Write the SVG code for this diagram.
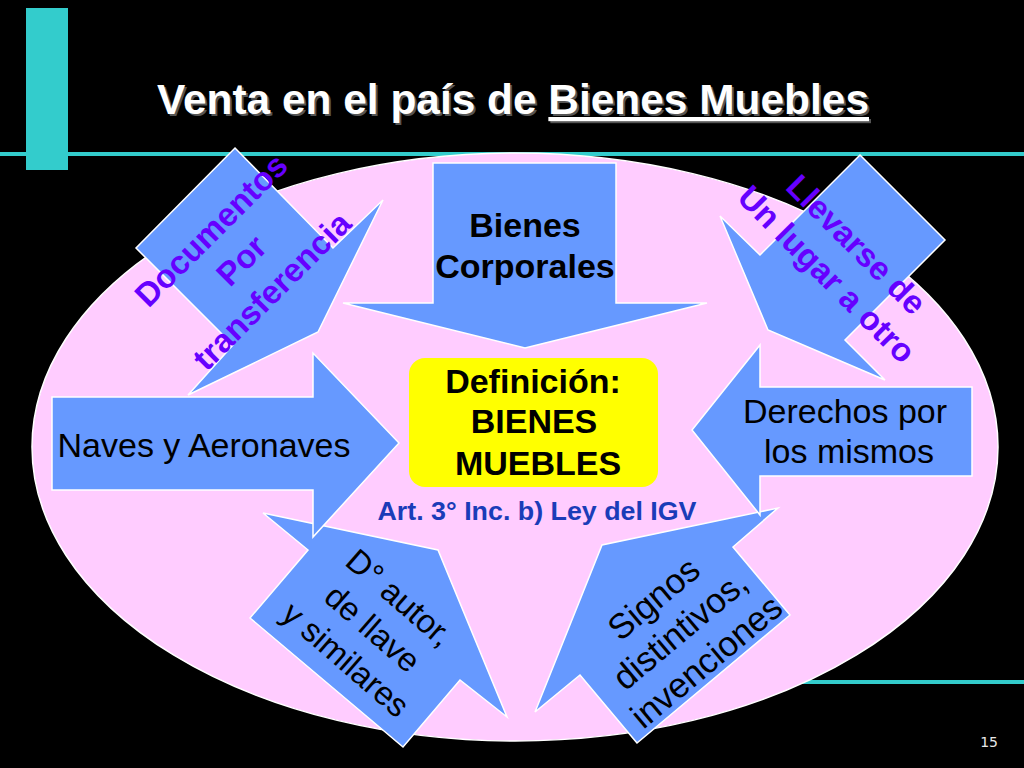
<svg xmlns="http://www.w3.org/2000/svg" width="1024" height="768" viewBox="0 0 1024 768">
<defs>
<style>
.arrow{fill:#6699FF;stroke:#FFFFFF;stroke-width:1.5;stroke-linejoin:miter}
.lbl{font-family:"Liberation Sans",Arial,sans-serif;fill:#000000;text-anchor:middle}
.b{font-weight:bold}
.purple{font-family:"Liberation Sans",Arial,sans-serif;font-weight:bold;fill:#6600FF;text-anchor:middle;font-size:33px}
.cyan{fill:#33CCCC}
</style>
</defs>
<rect x="0" y="0" width="1024" height="768" fill="#000000"/>
<g id="decor">
<rect class="cyan" x="0" y="152" width="1024" height="4"/>
<rect class="cyan" x="700" y="680" width="324" height="4"/>
<rect class="cyan" x="26" y="8" width="42" height="162"/>
</g>
<g id="title">
<text x="159" y="116" font-family="Liberation Sans, Arial, sans-serif" font-weight="bold" font-size="42" fill="#555555" textLength="712" lengthAdjust="spacingAndGlyphs">Venta en el país de <tspan text-decoration="underline">Bienes Muebles</tspan></text>
<text x="157" y="114" font-family="Liberation Sans, Arial, sans-serif" font-weight="bold" font-size="42" fill="#FFFFFF" textLength="712" lengthAdjust="spacingAndGlyphs">Venta en el país de <tspan text-decoration="underline">Bienes Muebles</tspan></text>
</g>
<g id="ellipse">
<ellipse cx="515" cy="447" rx="483" ry="294" fill="#FFCCFF" stroke="#FFFFFF" stroke-width="1.5"/>
</g>
<g id="node-derecho-autor">
<polygon class="arrow" points="250,618 308,550 263,513 438,550 507,717 460,680 403,747"/>
<text class="lbl" font-size="33" transform="translate(373,628) rotate(41)"><tspan x="0" y="-29">D° autor,</tspan><tspan x="0" y="12">de llave</tspan><tspan x="0" y="53">y similares</tspan></text>
</g>
<g id="node-signos">
<polygon class="arrow" points="637,743 580,675 535,712 602,545 778,508 733,547 790,615"/>
<text class="lbl" font-size="35" transform="translate(680,630) rotate(-40)"><tspan x="0" y="-29">Signos</tspan><tspan x="0" y="12">distintivos,</tspan><tspan x="0" y="53">invenciones</tspan></text>
</g>
<g id="node-documentos">
<polygon class="arrow" points="235,148 333,248 383,200 318,332 188,395 233,345 136,248"/>
<text class="purple" transform="translate(241,260) rotate(-45)"><tspan x="0" y="-31">Documentos</tspan><tspan x="0" y="12">Por</tspan><tspan x="0" y="55">transferencia</tspan></text>
</g>
<g id="node-llevarse">
<polygon class="arrow" points="860,155 945,240 845,340 885,380 768,330 720,216 760,255"/>
<text class="purple" transform="translate(842,259) rotate(45)"><tspan x="0" y="-9">Llevarse de</tspan><tspan x="0" y="33">Un lugar a otro</tspan></text>
</g>
<g id="node-bienes-corporales">
<polygon class="arrow" points="433,163 616,163 616,303 707,303 525,348 343,303 433,303"/>
<text class="lbl b" font-size="34"><tspan x="525" y="237">Bienes</tspan><tspan x="525" y="278">Corporales</tspan></text>
</g>
<g id="node-naves">
<polygon class="arrow" points="52,397 313,397 313,353 399,443 313,537 313,490 52,490"/>
<text class="lbl" font-size="34" x="204" y="457">Naves y Aeronaves</text>
</g>
<g id="node-derechos">
<polygon class="arrow" points="972,387 972,476 760,476 760,515 692,430 760,345 760,387"/>
<text class="lbl" font-size="34"><tspan x="845" y="423">Derechos por</tspan><tspan x="849" y="463">los mismos</tspan></text>
</g>
<g id="node-definicion">
<rect x="409" y="358" width="249" height="129" rx="16" ry="16" fill="#FFFF00"/>
<text class="lbl b" font-size="34"><tspan x="533" y="393">Definición:</tspan><tspan x="534" y="433">BIENES</tspan><tspan x="538" y="475">MUEBLES</tspan></text>
</g>
<g id="node-art">
<text x="537" y="520" font-family="Liberation Sans, Arial, sans-serif" font-weight="bold" font-size="25" fill="#1A3CB8" text-anchor="middle" textLength="319" lengthAdjust="spacingAndGlyphs">Art. 3° Inc. b) Ley del IGV</text>
</g>
<g id="connectors"></g>
<g id="page-number">
<text x="998" y="747" font-family="DejaVu Sans, sans-serif" font-size="14" fill="#E8E8E8" text-anchor="end">15</text>
</g>
</svg>
